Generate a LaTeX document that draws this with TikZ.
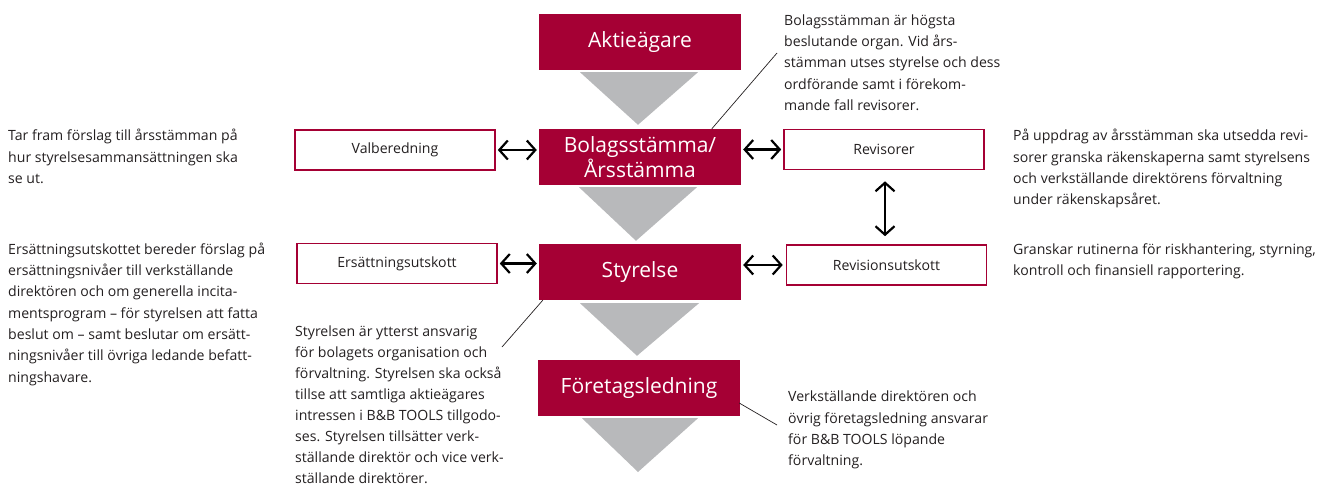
\documentclass[tikz,border=0pt]{standalone}
\usepackage{fontspec}
\setmainfont{Open Sans}
\usetikzlibrary{arrows.meta}
\definecolor{bbred}{HTML}{A50034}
\definecolor{bbgrey}{HTML}{B8B9BB}
\definecolor{txt}{HTML}{231F20}
\newcommand{\fl}{\rule{0pt}{12pt}}
\begin{document}
\begin{tikzpicture}[x=1pt,y=-1pt,
 redbox/.style={fill=bbred, draw=none, minimum width=202pt, minimum height=56pt, inner sep=0pt, text=white, font=\fontsize{21}{22}\selectfont, align=center},
 whitebox/.style={draw=bbred, line width=1.6pt, fill=white, minimum width=200pt, minimum height=40pt, inner sep=0pt, text=txt, font=\fontsize{14.1}{16}\selectfont},
 note/.style={anchor=north west, inner sep=0pt, align=left, text=txt, font=\fontsize{14.1}{21.3}\selectfont},
 flow/.style={fill=bbgrey},
 dbl/.style={line width=2.2pt, {Straight Barb[length=8.5pt,width=19pt]}-{Straight Barb[length=8.5pt,width=19pt]}},
 lead/.style={line width=0.7pt, draw=txt}]
\useasboundingbox (0,0) rectangle (1317,485);
% red boxes
\node[redbox] (a) at (640,42) {Aktieägare};
\node[redbox] (b) at (640,157) {Bolagsstämma/\\Årsstämma};
\node[redbox] (s) at (640,272) {Styrelse};
\node[redbox] (f) at (639,388) {Företagsledning};
% white boxes
\node[whitebox] (v) at (395,150) {Valberedning};
\node[whitebox] (e) at (397,263.5) {Ersättningsutskott};
\node[whitebox] (r) at (884,149.5) {Revisorer};
\node[whitebox] (ru) at (886.5,265) {Revisionsutskott};
% flow triangles
\coordinate (tip) at (638,472);
\fill[flow] ([xshift=-60pt,yshift=-2pt]a.south) -- ([xshift=58pt,yshift=-2pt]a.south) -- ([xshift=-2pt,yshift=4pt]b.north) -- cycle;
\fill[flow] ([xshift=-61pt,yshift=-2pt]b.south) -- ([xshift=57pt,yshift=-2pt]b.south) -- ([xshift=-4pt,yshift=3pt]s.north) -- cycle;
\fill[flow] ([xshift=-60pt,yshift=-3pt]s.south) -- ([xshift=59pt,yshift=-3pt]s.south) -- ([xshift=-2pt,yshift=4pt]f.north) -- cycle;
\fill[flow] ([xshift=-57pt,yshift=-2pt]f.south) -- ([xshift=59pt,yshift=-2pt]f.south) -- (tip) -- cycle;
% double arrows
\draw[dbl] ([xshift=2pt]v.east) -- ([xshift=-2pt]v.east -| b.west);
\draw[dbl] ([xshift=2pt]e.east) -- ([xshift=-2pt]e.east -| s.west);
\draw[dbl] ([xshift=2pt]b.east |- r.west) -- ([xshift=-2pt]r.west);
\draw[dbl] ([xshift=2pt]s.east |- ru.west) -- ([xshift=-3pt]ru.west);
\draw[dbl] ([xshift=1pt,yshift=-11pt]r.south) -- ([xshift=1pt,yshift=8pt]r.south |- ru.north);
% leader lines
\coordinate (l1) at (777,53);
\coordinate (l2) at (502,347);
\coordinate (l3) at (777,425);
\draw[lead] ([xshift=173pt]b.north west) -- (l1);
\draw[lead] ([xshift=4pt]s.south west) -- (l2);
\draw[lead] ([xshift=-1pt,yshift=-15pt]f.east) -- (l3);
% notes (north edge = first baseline - 12)
\node[note] (n1) at (784,13) {\fl Bolagsstämman är högsta\\beslutande organ. Vid års-\\stämman utses styrelse och dess\\ordförande samt i förekom-\\mande fall revisorer.};
\node[note] (n2) at (8,128.5) {\fl Tar fram förslag till årsstämman på\\hur styrelsesammansättningen ska\\se ut.};
\node[note] (n3) at (8,242) {\fl Ersättningsutskottet bereder förslag på\\ersättningsnivåer till verkställande\\direktören och om generella incita-\\mentsprogram -- för styrelsen att fatta\\beslut om -- samt beslutar om ersätt-\\ningsnivåer till övriga ledande befatt-\\ningshavare.};
\node[note] (n4) at (1013,128.5) {\fl På uppdrag av årsstämman ska utsedda revi-\\sorer granska räkenskaperna samt styrelsens\\och verkställande direktörens förvaltning\\under räkenskapsåret.};
\node[note] (n5) at (1013,242) {\fl Granskar rutinerna för riskhantering, styrning,\\kontroll och finansiell rapportering.};
\node[note, font=\fontsize{14.1}{21}\selectfont] (n6) at (295,324.5) {\fl Styrelsen är ytterst ansvarig\\för bolagets organisation och\\förvaltning. Styrelsen ska också\\tillse att samtliga aktieägares\\intressen i B\&B TOOLS tillgodo-\\ses. Styrelsen tillsätter verk-\\ställande direktör och vice verk-\\ställande direktörer.};
\node[note] (n7) at (788,389.5) {\fl Verkställande direktören och\\övrig företagsledning ansvarar\\för B\&B TOOLS löpande\\förvaltning.};
\end{tikzpicture}
\end{document}
